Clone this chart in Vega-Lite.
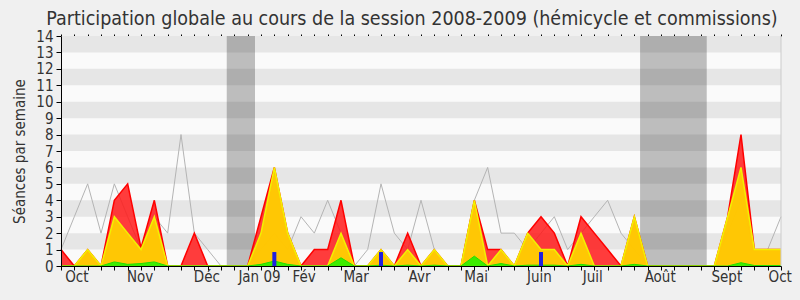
{
  "$schema": "https://vega.github.io/schema/vega-lite/v6.json",
  "width": 720,
  "height": 230,
  "autosize": "none",
  "padding": {"left": 61, "top": 36, "right": 19, "bottom": 34},
  "background": "#f0f0f0",
  "config": {
    "font": "DejaVu Sans Condensed, DejaVu Sans",
    "view": {"fill": "#fafafa", "stroke": null}
  },
  "title": {
    "text": "Participation globale au cours de la session 2008-2009 (hémicycle et commissions)",
    "font": "DejaVu Sans Condensed, DejaVu Sans",
    "fontSize": 19.5,
    "fontWeight": "normal",
    "color": "#333333",
    "anchor": "middle",
    "dx": -9,
    "offset": 0
  },
  "datasets": {
    "bands": [
      {"y1": 1, "y2": 2}, {"y1": 3, "y2": 4}, {"y1": 5, "y2": 6}, {"y1": 7, "y2": 8},
      {"y1": 9, "y2": 10}, {"y1": 11, "y2": 12}, {"y1": 13, "y2": 14}
    ],
    "vac": [
      {"x1": 12.43, "x2": 14.55},
      {"x1": 43.43, "x2": 48.43}
    ],
    "blue": [
      {"w": 16, "v": 0.85},
      {"w": 24, "v": 0.85},
      {"w": 36, "v": 0.85}
    ],
    "weeks": [
      {"w": 0, "red": 1, "yel": 0, "grn": 0, "gray": 1},
      {"w": 1, "red": 0, "yel": 0, "grn": 0, "gray": 3},
      {"w": 2, "red": 1, "yel": 1, "grn": 0, "gray": 5},
      {"w": 3, "red": 0, "yel": 0, "grn": 0, "gray": 2},
      {"w": 4, "red": 4, "yel": 3, "grn": 0.25, "gray": 5},
      {"w": 5, "red": 5, "yel": 2, "grn": 0.1, "gray": 3},
      {"w": 6, "red": 1.1, "yel": 1, "grn": 0.15, "gray": 1},
      {"w": 7, "red": 4, "yel": 3, "grn": 0.25, "gray": 3},
      {"w": 8, "red": 0, "yel": 0, "grn": 0, "gray": 2},
      {"w": 9, "red": 0, "yel": 0, "grn": 0, "gray": 8},
      {"w": 10, "red": 2, "yel": 0, "grn": 0, "gray": 2},
      {"w": 11, "red": 0, "yel": 0, "grn": 0, "gray": 1},
      {"w": 12, "red": 0, "yel": 0, "grn": 0, "gray": 0},
      {"w": 13, "red": 0, "yel": 0, "grn": 0, "gray": 0},
      {"w": 14, "red": 0, "yel": 0, "grn": 0, "gray": 0},
      {"w": 15, "red": 3, "yel": 2, "grn": 0.1, "gray": 1},
      {"w": 16, "red": 6, "yel": 6, "grn": 0.3, "gray": 2},
      {"w": 17, "red": 2, "yel": 2, "grn": 0.1, "gray": 1},
      {"w": 18, "red": 0, "yel": 0, "grn": 0, "gray": 3},
      {"w": 19, "red": 1, "yel": 0, "grn": 0, "gray": 2},
      {"w": 20, "red": 1, "yel": 0, "grn": 0, "gray": 4},
      {"w": 21, "red": 4, "yel": 2, "grn": 0.5, "gray": 2},
      {"w": 22, "red": 0, "yel": 0, "grn": 0, "gray": 0},
      {"w": 23, "red": 0, "yel": 0, "grn": 0, "gray": 1},
      {"w": 24, "red": 1, "yel": 1, "grn": 0.05, "gray": 5},
      {"w": 25, "red": 0, "yel": 0, "grn": 0, "gray": 2},
      {"w": 26, "red": 2, "yel": 1, "grn": 0.05, "gray": 1},
      {"w": 27, "red": 0, "yel": 0, "grn": 0, "gray": 4},
      {"w": 28, "red": 1, "yel": 1, "grn": 0.05, "gray": 1},
      {"w": 29, "red": 0, "yel": 0, "grn": 0, "gray": 0},
      {"w": 30, "red": 0, "yel": 0, "grn": 0, "gray": 0},
      {"w": 31, "red": 4, "yel": 4, "grn": 0.6, "gray": 4},
      {"w": 32, "red": 1, "yel": 0, "grn": 0, "gray": 6},
      {"w": 33, "red": 1, "yel": 1, "grn": 0.15, "gray": 2},
      {"w": 34, "red": 0, "yel": 0, "grn": 0, "gray": 2},
      {"w": 35, "red": 2, "yel": 2, "grn": 0.05, "gray": 1},
      {"w": 36, "red": 3, "yel": 1, "grn": 0.05, "gray": 2},
      {"w": 37, "red": 2, "yel": 1, "grn": 0.05, "gray": 3},
      {"w": 38, "red": 0, "yel": 0, "grn": 0, "gray": 1},
      {"w": 39, "red": 3, "yel": 2, "grn": 0.1, "gray": 2},
      {"w": 40, "red": 2, "yel": 0, "grn": 0, "gray": 3},
      {"w": 41, "red": 1, "yel": 0, "grn": 0, "gray": 4},
      {"w": 42, "red": 0, "yel": 0, "grn": 0, "gray": 2},
      {"w": 43, "red": 3, "yel": 3, "grn": 0.1, "gray": 1},
      {"w": 44, "red": 0, "yel": 0, "grn": 0, "gray": 0},
      {"w": 45, "red": 0, "yel": 0, "grn": 0, "gray": 0},
      {"w": 46, "red": 0, "yel": 0, "grn": 0, "gray": 0},
      {"w": 47, "red": 0, "yel": 0, "grn": 0, "gray": 0},
      {"w": 48, "red": 0, "yel": 0, "grn": 0, "gray": 0},
      {"w": 49, "red": 0, "yel": 0, "grn": 0, "gray": 0},
      {"w": 50, "red": 3, "yel": 3, "grn": 0, "gray": 2},
      {"w": 51, "red": 8, "yel": 6, "grn": 0.2, "gray": 4},
      {"w": 52, "red": 1, "yel": 1, "grn": 0.03, "gray": 1},
      {"w": 53, "red": 1, "yel": 1, "grn": 0.03, "gray": 1},
      {"w": 54, "red": 1, "yel": 1, "grn": 0.03, "gray": 3}
    ]
  },
  "resolve": {"axis": {"x": "independent", "y": "independent"}},
  "layer": [
    {
      "data": {"name": "bands"},
      "mark": {"type": "rect", "color": "#e6e6e6"},
      "encoding": {
        "y": {
          "field": "y1", "type": "quantitative",
          "scale": {"domain": [0, 14], "nice": false, "zero": true, "padding": 0},
          "axis": {
            "orient": "left",
            "title": "Séances par semaine",
            "titleFont": "DejaVu Sans Condensed, DejaVu Sans",
            "titleFontSize": 15,
            "titleFontWeight": "normal",
            "titleColor": "#333333",
            "titlePadding": 8,
            "values": [0,1,2,3,4,5,6,7,8,9,10,11,12,13,14],
            "labelOverlap": false,
            "labelFont": "DejaVu Sans Condensed, DejaVu Sans",
            "labelFontSize": 15,
            "labelColor": "#333333",
            "labelPadding": 3,
            "tickSize": 5,
            "tickColor": "#000000",
            "domainColor": "#000000",
            "grid": false,
            "zindex": 1
          }
        },
        "y2": {"field": "y2"}
      }
    },
    {
      "data": {"name": "vac"},
      "mark": {"type": "rect", "color": "#000000", "opacity": 0.245},
      "encoding": {
        "x": {
          "field": "x1", "type": "quantitative",
          "scale": {"domain": [0, 54], "nice": false, "zero": false, "padding": 0},
          "axis": {
            "orient": "bottom",
            "title": null,
            "values": [0,1,2,3,4,5,6,7,8,9,10,11,12,13,14,15,16,17,18,19,20,21,22,23,24,25,26,27,28,29,30,31,32,33,34,35,36,37,38,39,40,41,42,43,44,45,46,47,48,49,50,51,52,53,54],
            "labels": false,
            "tickSize": 4,
            "tickColor": "#000000",
            "domainColor": "#000000",
            "grid": false,
            "zindex": 1
          }
        },
        "x2": {"field": "x2"}
      }
    },
    {
      "data": {"name": "weeks"},
      "mark": {"type": "line", "color": "#b4b4b4", "strokeWidth": 1},
      "encoding": {
        "x": {
          "field": "w", "type": "quantitative",
          "axis": {
            "orient": "bottom",
            "title": null,
            "values": [1.15, 5.9, 10.9, 14.85, 18.2, 22.1, 26.85, 31.1, 35.85, 39.85, 44.9, 49.9, 53.9],
            "labelExpr": "datum.value < 3 ? 'Oct' : datum.value < 8 ? 'Nov' : datum.value < 12 ? 'Déc' : datum.value < 16 ? 'Jan 09' : datum.value < 20 ? 'Fév' : datum.value < 24 ? 'Mar' : datum.value < 29 ? 'Avr' : datum.value < 33 ? 'Mai' : datum.value < 37 ? 'Juin' : datum.value < 42 ? 'Juil' : datum.value < 47 ? 'Août' : datum.value < 52 ? 'Sept' : 'Oct'",
            "ticks": false,
            "tickSize": 0,
            "domain": false,
            "grid": false,
            "labelFont": "DejaVu Sans Condensed, DejaVu Sans",
            "labelFontSize": 15,
            "labelColor": "#333333",
            "labelPadding": 3,
            "labelFlush": false,
            "labelOverlap": false,
            "labelBound": false
          }
        },
        "y": {"field": "gray", "type": "quantitative", "axis": null}
      }
    },
    {
      "data": {"name": "weeks"},
      "mark": {"type": "area", "color": "#ff1a1a", "fillOpacity": 0.85, "line": {"color": "#ff0000", "strokeWidth": 1.5}},
      "encoding": {
        "x": {
          "field": "w", "type": "quantitative",
          "axis": {
            "orient": "top",
            "title": null,
            "values": [0,1,2,3,4,5,6,7,8,9,10,11,12,13,14,15,16,17,18,19,20,21,22,23,24,25,26,27,28,29,30,31,32,33,34,35,36,37,38,39,40,41,42,43,44,45,46,47,48,49,50,51,52,53,54],
            "labels": false,
            "domain": false,
            "tickSize": 2,
            "tickColor": "#000000",
            "grid": false
          }
        },
        "y": {"field": "red", "type": "quantitative", "axis": null}
      }
    },
    {
      "data": {"name": "weeks"},
      "mark": {"type": "area", "color": "#ffd200", "fillOpacity": 0.93, "line": {"color": "#f2f200", "strokeWidth": 1.5}},
      "encoding": {
        "x": {"field": "w", "type": "quantitative", "axis": null},
        "y": {"field": "yel", "type": "quantitative", "axis": null}
      }
    },
    {
      "data": {"name": "weeks"},
      "mark": {"type": "area", "color": "#33ee00", "fillOpacity": 0.95, "line": {"color": "#22dd00", "strokeWidth": 1}},
      "encoding": {
        "x": {"field": "w", "type": "quantitative", "axis": null},
        "y": {"field": "grn", "type": "quantitative", "axis": null}
      }
    },
    {
      "data": {"name": "blue"},
      "mark": {"type": "bar", "color": "#2020e0", "width": 4},
      "encoding": {
        "x": {"field": "w", "type": "quantitative", "axis": null},
        "y": {"field": "v", "type": "quantitative", "axis": null}
      }
    },
    {
      "data": {"values": [{}]},
      "mark": {"type": "rule", "color": "#cccccc", "strokeWidth": 1},
      "encoding": {
        "x": {"datum": 54, "type": "quantitative", "axis": null}
      }
    }
  ]
}
